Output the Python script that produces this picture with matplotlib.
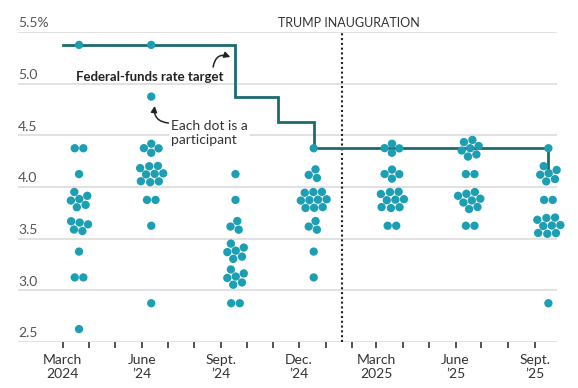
import numpy as np
import pandas as pd
import matplotlib
matplotlib.use("Agg")
import matplotlib.pyplot as plt
import matplotlib.dates as mdates
from matplotlib.transforms import blended_transform_factory

# -------- Data --------
# Fed projections for end-2025 policy rate, by meeting (dot counts per level)
meetings = ["2024-03-20", "2024-06-12", "2024-09-18", "2024-12-18",
            "2025-03-19", "2025-06-18", "2025-09-17"]
meeting_labels = ["March\n2024", "June\n\u201924", "Sept.\n\u201924", "Dec.\n\u201924",
                  "March\n2025", "June\n\u201925", "Sept.\n\u201925"]
levels = [5.375, 4.875, 4.375, 4.125, 3.875, 3.625, 3.375, 3.125, 2.875, 2.625]
counts_mar24 = [1, 0, 2, 1, 6, 5, 1, 2, 0, 1]
counts_jun24 = [1, 1, 4, 9, 2, 1, 0, 0, 1, 0]
counts_sep24 = [0, 0, 0, 1, 1, 3, 6, 6, 2, 0]
counts_dec24 = [0, 0, 1, 3, 10, 3, 1, 1, 0, 0]
counts_mar25 = [0, 0, 4, 4, 9, 2, 0, 0, 0, 0]
counts_jun25 = [0, 0, 7, 2, 8, 2, 0, 0, 0, 0]
counts_sep25 = [0, 0, 1, 6, 2, 9, 0, 0, 1, 0]
all_counts = [counts_mar24, counts_jun24, counts_sep24, counts_dec24,
              counts_mar25, counts_jun25, counts_sep25]

# Federal-funds rate target (midpoint), step changes
rate_dates = ["2024-03-01", "2024-09-18", "2024-11-07", "2024-12-18", "2025-09-17"]
rate_values = [5.375, 4.875, 4.625, 4.375, 4.125]

inauguration = "2025-01-20"
y_ticks = [2.5, 3.0, 3.5, 4.0, 4.5, 5.0, 5.5]
y_tick_labels = ["2.5", "3.0", "3.5", "4.0", "4.5", "5.0", "5.5%"]

plt.rcParams["font.family"] = ["Lato", "DejaVu Sans"]

DOT = "#1c9fb3"
LINE = "#1d6a6d"

fig = plt.figure(figsize=(5.78, 3.88), dpi=100)
ax = fig.add_axes([18 / 578, 1 - 342 / 388, (557 - 18) / 578, 310 / 388])
ax.set_xlim(mdates.date2num(pd.Timestamp("2024-01-09")),
            mdates.date2num(pd.Timestamp("2025-09-27")))
ax.set_ylim(2.5, 5.5)
for s in ax.spines.values():
    s.set_visible(False)

# gridlines + y labels
trans = blended_transform_factory(ax.transAxes, ax.transData)
for v, lab in zip(y_ticks, y_tick_labels):
    ax.axhline(v, color="#dcdcdc", lw=1.2, zorder=0)
    ax.text(0, v + 0.025, lab, transform=trans, ha="left", va="bottom",
            fontsize=10, color="#555555")
ax.set_yticks([])

# x ticks: monthly minor, quarterly labelled
months = pd.date_range("2024-03-01", "2025-09-01", freq="MS")
ax.set_xticks(mdates.date2num(months), minor=True)
ax.set_xticks(mdates.date2num(pd.to_datetime(["2024-03-01", "2024-06-01", "2024-09-01",
                                              "2024-12-01", "2025-03-01", "2025-06-01",
                                              "2025-09-01"])))
ax.set_xticklabels(meeting_labels, fontsize=10, color="#333333", linespacing=1.2)
ax.tick_params(axis="x", which="both", length=4, width=1.3, color="#444444", pad=5)


# -------- Beeswarm layout (pixel space, from data) --------
def swarm(targets, level_idx, d=8.6, steps=600):
    n = len(targets)
    pos = targets.astype(float).copy()
    for i in range(n):
        k = level_idx[i]
        if k > 0:
            ang = np.pi + (k - 1) * 2.39996
            r = 1.5 * np.sqrt(k)
            pos[i] += [r * np.cos(ang), r * np.sin(ang)]
    eye = np.eye(n)
    for step in range(steps):
        diff = pos[:, None, :] - pos[None, :, :]
        dist = np.hypot(diff[..., 0], diff[..., 1]) + eye
        overlap = np.clip(d - dist, 0, None) * (1 - eye)
        pos += (diff / dist[..., None] * overlap[..., None] / 2).sum(axis=1)
        if step < steps - 40:
            pos[:, 0] += 0.05 * (targets[:, 0] - pos[:, 0])
            pos[:, 1] += 0.06 * (targets[:, 1] - pos[:, 1])
    return pos


xs, ys = [], []
for m, counts in zip(meetings, all_counts):
    vals, idx = [], []
    for lv, c in zip(levels, counts):
        vals += [lv] * c
        idx += list(range(c))
    xm = mdates.date2num(pd.Timestamp(m))
    tgt = ax.transData.transform(np.c_[np.full(len(vals), xm), vals])
    pos = swarm(tgt, np.array(idx))
    data = ax.transData.inverted().transform(pos)
    xs += list(data[:, 0])
    ys += list(data[:, 1])

ax.scatter(xs, ys, s=36, color=DOT, edgecolors="none", zorder=4, clip_on=False)

# rate target line
rd = mdates.date2num(pd.to_datetime(rate_dates))
ax.plot(rd, rate_values, drawstyle="steps-post", color=LINE, lw=2, zorder=3,
        solid_joinstyle="miter")

# inauguration marker
xi = mdates.date2num(pd.Timestamp(inauguration))
ax.plot([xi, xi], [2.5, 5.5], color="#222222", lw=1.5, ls=(0, (1, 1.3)), zorder=2)
ax.text(mdates.date2num(pd.Timestamp("2025-01-28")), 5.59, "TRUMP INAUGURATION",
        ha="center", va="center", fontsize=9, color="#333333", clip_on=False)

# annotations
ax.text(mdates.date2num(pd.Timestamp("2024-06-10")), 5.06, "Federal-funds rate target",
        ha="center", va="center", fontsize=9.5, fontweight="bold", color="#222222")
ax.annotate("", xy=(mdates.date2num(pd.Timestamp("2024-09-12")), 5.258),
            xytext=(mdates.date2num(pd.Timestamp("2024-08-23")), 5.161),
            arrowprops=dict(arrowstyle="-|>,head_length=0.35,head_width=0.18",
                            connectionstyle="arc3,rad=-0.6", color="#222222", lw=1.1,
                            shrinkA=0, shrinkB=0))
ax.text(mdates.date2num(pd.Timestamp("2024-07-05")), 4.522, "Each dot is a\nparticipant",
        ha="left", va="center", fontsize=10, color="#333333", linespacing=1.15,
        bbox=dict(facecolor="white", edgecolor="none", pad=1.5), zorder=5)
ax.annotate("", xy=(mdates.date2num(pd.Timestamp("2024-06-16")), 4.784),
            xytext=(mdates.date2num(pd.Timestamp("2024-07-02")), 4.619),
            arrowprops=dict(arrowstyle="-|>,head_length=0.35,head_width=0.18",
                            connectionstyle="arc3,rad=-0.5", color="#222222", lw=1.1,
                            shrinkA=0, shrinkB=0))

fig.savefig("out.png", dpi=100)
